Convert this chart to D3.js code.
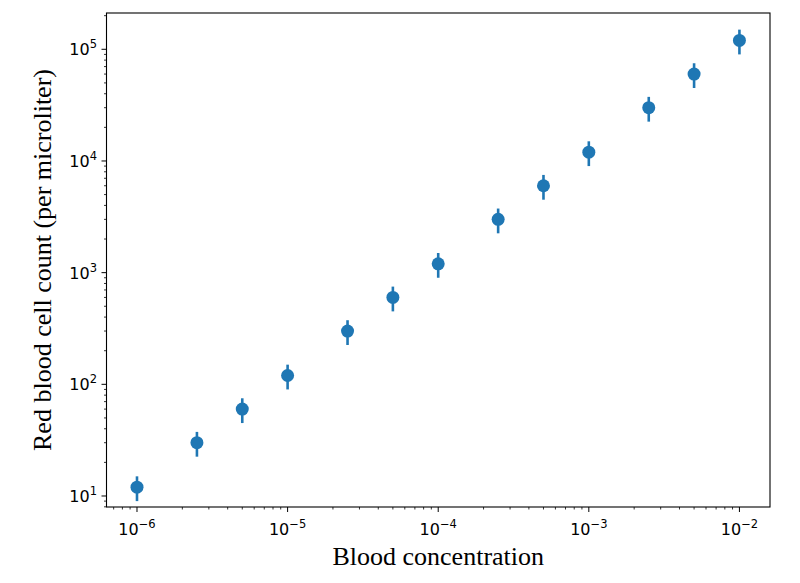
<!DOCTYPE html>
<html>
<head>
<meta charset="utf-8">
<script src="https://cdn.jsdelivr.net/npm/d3@7"></script>
<style>
  body { margin: 0; background: #fff; }
  svg { display: block; }
</style>
</head>
<body>
<svg id="chart" width="800" height="583"></svg>
<script>
// Data
const concentration = [1e-6, 2.5e-6, 5e-6, 1e-5, 2.5e-5, 5e-5, 1e-4, 2.5e-4, 5e-4, 1e-3, 2.5e-3, 5e-3, 1e-2];
const cellCount = [12, 30, 60, 120, 300, 600, 1200, 3000, 6000, 12000, 30000, 60000, 120000];
const errLow = [3, 7.5, 15, 30, 75, 150, 300, 750, 1500, 3000, 7500, 15000, 30000];
const errHigh = [3, 7.5, 15, 30, 75, 150, 300, 750, 1500, 3000, 7500, 15000, 30000];
const xTickExps = [-6, -5, -4, -3, -2];
const yTickExps = [1, 2, 3, 4, 5];
const xLabel = "Blood concentration";
const yLabel = "Red blood cell count (per microliter)";

const plotL = 106.5, plotR = 770, plotT = 13, plotB = 507;
const color = "#1f77b4";

const svg = d3.select("#chart");

const x = d3.scaleLog().domain([Math.pow(10, -6.2025), Math.pow(10, -1.797)]).range([plotL, plotR]);
const y = d3.scaleLog().domain([Math.pow(10, 0.9015), Math.pow(10, 5.325)]).range([plotB, plotT]);

// minor ticks
function minorTicks(scale, lo, hi) {
  const out = [];
  const d = scale.domain();
  for (let e = lo; e <= hi; e++) {
    for (let m = 2; m <= 9; m++) {
      const v = m * Math.pow(10, e);
      if (v >= d[0] && v <= d[1]) out.push(v);
    }
  }
  return out;
}

const axisG = svg.append("g");
axisG.selectAll(".xminor").data(minorTicks(x, -7, -2)).enter().append("line")
  .attr("x1", d => x(d)).attr("x2", d => x(d))
  .attr("y1", plotB).attr("y2", plotB + 2.5)
  .attr("stroke", "#000").attr("stroke-width", 0.8);
axisG.selectAll(".xmajor").data(xTickExps).enter().append("line")
  .attr("x1", d => x(Math.pow(10, d))).attr("x2", d => x(Math.pow(10, d)))
  .attr("y1", plotB).attr("y2", plotB + 5)
  .attr("stroke", "#000").attr("stroke-width", 1);
axisG.selectAll(".yminor").data(minorTicks(y, 0, 5)).enter().append("line")
  .attr("y1", d => y(d)).attr("y2", d => y(d))
  .attr("x1", plotL).attr("x2", plotL - 2.5)
  .attr("stroke", "#000").attr("stroke-width", 0.8);
axisG.selectAll(".ymajor").data(yTickExps).enter().append("line")
  .attr("y1", d => y(Math.pow(10, d))).attr("y2", d => y(Math.pow(10, d)))
  .attr("x1", plotL).attr("x2", plotL - 5)
  .attr("stroke", "#000").attr("stroke-width", 1);

// tick labels
const fontSans = "'DejaVu Sans', sans-serif";
function expLabel(sel, e) {
  sel.append("tspan").text("10");
  sel.append("tspan").attr("dy", -7).attr("font-size", 11.5).text(e < 0 ? "\u2212" + (-e) : String(e));
}
xTickExps.forEach(e => {
  const t = svg.append("text")
    .attr("x", x(Math.pow(10, e)))
    .attr("y", 535)
    .attr("text-anchor", "middle")
    .attr("font-family", fontSans)
    .attr("font-size", 16)
    .attr("fill", "#000");
  expLabel(t, e);
});
yTickExps.forEach(e => {
  const t = svg.append("text")
    .attr("x", 97)
    .attr("y", y(Math.pow(10, e)) + 6)
    .attr("text-anchor", "end")
    .attr("font-family", fontSans)
    .attr("font-size", 16)
    .attr("fill", "#000");
  expLabel(t, e);
});

// error bars
svg.append("g").selectAll("line").data(concentration).enter().append("line")
  .attr("x1", d => x(d)).attr("x2", d => x(d))
  .attr("y1", (d, i) => y(cellCount[i] - errLow[i]))
  .attr("y2", (d, i) => y(cellCount[i] + errHigh[i]))
  .attr("stroke", color).attr("stroke-width", 2.6);

// points
svg.append("g").selectAll("circle").data(concentration).enter().append("circle")
  .attr("cx", d => x(d))
  .attr("cy", (d, i) => y(cellCount[i]))
  .attr("r", 6.5)
  .attr("fill", color);

// frame
svg.append("rect")
  .attr("x", plotL).attr("y", plotT)
  .attr("width", plotR - plotL).attr("height", plotB - plotT)
  .attr("fill", "none").attr("stroke", "#000").attr("stroke-width", 1.1);

// axis labels
const fontSerif = "'Liberation Serif', 'Times New Roman', serif";
svg.append("text")
  .attr("x", (plotL + plotR) / 2)
  .attr("y", 565)
  .attr("text-anchor", "middle")
  .attr("font-family", fontSerif)
  .attr("font-size", 26)
  .attr("fill", "#000")
  .text(xLabel);
svg.append("text")
  .attr("transform", `translate(51,${(plotT + plotB) / 2}) rotate(-90)`)
  .attr("text-anchor", "middle")
  .attr("font-family", fontSerif)
  .attr("font-size", 26)
  .attr("fill", "#000")
  .text(yLabel);
</script>
</body>
</html>
